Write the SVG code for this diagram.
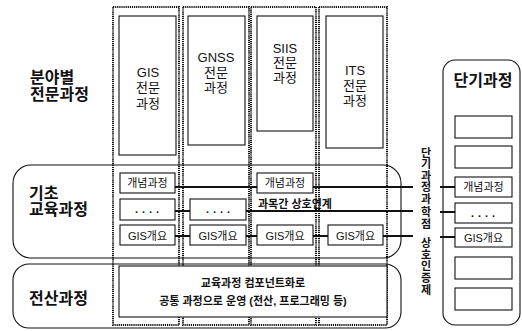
<svg xmlns="http://www.w3.org/2000/svg" width="522" height="331" viewBox="0 0 522 331">
<style>
text{font-family:"Liberation Sans","Noto Sans CJK KR",sans-serif;fill:#111}
.lbl{font-size:16px;font-weight:bold}
.col{font-size:13px;text-anchor:middle}
.box{font-size:11px;text-anchor:middle}
.b{font-weight:bold}
.dot{fill:none;stroke:#111;stroke-width:2;stroke-dasharray:1.2 0.9}
.sb{fill:#fff;stroke:#111;stroke-width:1.1}
.rr{fill:none;stroke:#111;stroke-width:1.1}
.cn{stroke:#111;stroke-width:1.8;fill:none}
</style>
<rect width="522" height="331" fill="#fff"/>
<g id="basic-group"><rect class="rr" x="13" y="165" width="388" height="93" rx="18"/>
<text class="lbl" x="29" y="199">기초</text><text class="lbl" x="29" y="215">교육과정</text></g>
<g id="computing-group"><rect class="rr" x="13" y="264" width="388" height="64" rx="16"/>
<text class="lbl" x="29" y="304">전산과정</text></g>
<g id="field-label"><text class="lbl" x="30" y="83">분야별</text><text class="lbl" x="30" y="100">전문과정</text></g>
<g id="col-gis"><rect class="dot" x="113" y="7" width="66" height="318"/>
<rect class="sb" x="119" y="16" width="57" height="139"/>
<text class="col" x="148" y="77">GIS</text><text class="col" x="148" y="92">전문</text><text class="col" x="148" y="108">과정</text></g>
<g id="col-gnss"><rect class="dot" x="183" y="7" width="66" height="318"/>
<rect class="sb" x="188" y="16" width="57" height="129"/>
<text class="col" x="216" y="62">GNSS</text><text class="col" x="216" y="77">전문</text><text class="col" x="216" y="92">과정</text></g>
<g id="col-siis"><rect class="dot" x="251" y="7" width="65" height="318"/>
<rect class="sb" x="257" y="16" width="56" height="115"/>
<text class="col" x="285" y="53">SIIS</text><text class="col" x="285" y="67">전문</text><text class="col" x="285" y="82">과정</text></g>
<g id="col-its"><rect class="dot" x="319" y="7" width="68" height="318"/>
<rect class="sb" x="326" y="16" width="57" height="132"/>
<text class="col" x="355" y="75">ITS</text><text class="col" x="355" y="90">전문</text><text class="col" x="355" y="105">과정</text></g>
<g id="connectors">
<path class="cn" d="M175 187H257M313 187H413M175 211H190M246 211H413M175 236H190M246 236H257M313 236H328M383 236H413M440 187H455M440 212H455M440 237H455"/>
</g>
<g id="basic-boxes">
<rect class="sb" x="120" y="173" width="55" height="20"/><text class="box" x="147.5" y="187">개념과정</text>
<rect class="sb" x="257" y="173" width="56" height="20"/><text class="box" x="285" y="187">개념과정</text>
<rect class="sb" x="120" y="199" width="55" height="21"/><text class="box b" x="149" y="213" letter-spacing="4">....</text>
<rect class="sb" x="190" y="199" width="56" height="21"/><text class="box b" x="220" y="213" letter-spacing="4">....</text>
<text class="b" x="258" y="208" font-size="11">과목간 상호연계</text>
<rect class="sb" x="120" y="225" width="55" height="20"/><text class="box" x="147.5" y="240">GIS개요</text>
<rect class="sb" x="190" y="225" width="56" height="20"/><text class="box" x="218" y="240">GIS개요</text>
<rect class="sb" x="257" y="225" width="56" height="20"/><text class="box" x="285" y="240">GIS개요</text>
<rect class="sb" x="328" y="225" width="55" height="20"/><text class="box" x="355.5" y="240">GIS개요</text>
</g>
<g id="computing-box"><rect class="sb" x="119" y="266" width="268" height="51"/>
<text class="box b" x="253" y="287">교육과정 컴포넌트화로</text>
<text class="box b" x="253" y="305">공통 과정으로 운영 (전산, 프로그래밍 등)</text></g>
<g id="mutual-label"><text class="b" x="425" font-size="11" letter-spacing="0.6" writing-mode="vertical-rl"><tspan x="425" y="147">단기과정과 </tspan><tspan x="425" y="206">학점 </tspan><tspan x="425" y="237">상호인증제</tspan></text></g>
<g id="short-course"><rect class="rr" x="443" y="60" width="77" height="265" rx="12"/>
<text class="lbl" x="483" y="86" text-anchor="middle">단기과정</text>
<rect class="sb" x="455" y="116" width="57" height="22"/>
<rect class="sb" x="455" y="146" width="57" height="22"/>
<rect class="sb" x="455" y="177" width="57" height="20"/><text class="box" x="483.5" y="191">개념과정</text>
<rect class="sb" x="455" y="203" width="57" height="20"/><text class="box b" x="485" y="217" letter-spacing="4">....</text>
<rect class="sb" x="455" y="228" width="57" height="19"/><text class="box" x="483.5" y="242">GIS개요</text>
<rect class="sb" x="455" y="257" width="57" height="22"/>
<rect class="sb" x="455" y="288" width="57" height="22"/></g>
</svg>
